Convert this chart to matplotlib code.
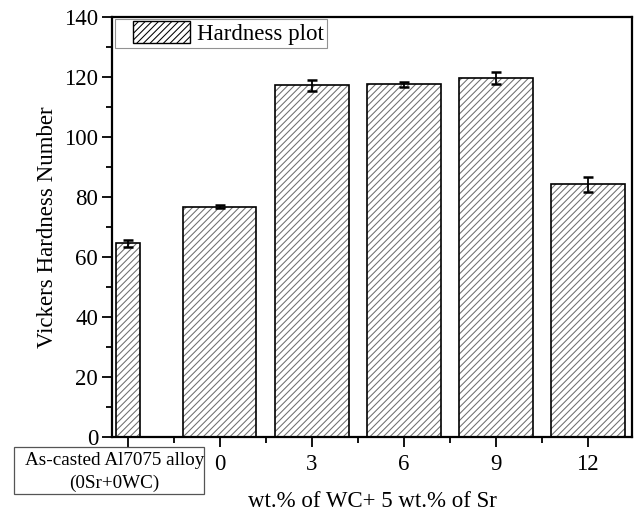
import matplotlib
matplotlib.use("Agg")
import matplotlib.pyplot as plt
from matplotlib.patches import Rectangle
from matplotlib.legend_handler import HandlerPatch
from matplotlib.ticker import MultipleLocator, FixedLocator

plt.rcParams['font.family'] = ['Liberation Serif', 'DejaVu Serif']
plt.rcParams['hatch.linewidth'] = 0.75
plt.rcParams['hatch.color'] = '#6e6e6e'

# Sample groups and measured Vickers hardness
sample_labels = ["", "0", "3", "6", "9", "12"]
base_label = "As-casted Al7075 alloy\n(0Sr+0WC)"
hardness = [64.6, 76.8, 117.2, 117.6, 119.6, 84.2]
hardness_err = [1.2, 0.4, 1.7, 0.8, 2.0, 2.4]
positions = [-1, 0, 1, 2, 3, 4]
bar_widths = [0.26, 0.8, 0.8, 0.8, 0.8, 0.8]

fig = plt.figure(figsize=(6.36, 5.13), dpi=100)
ax = fig.add_axes([112 / 636, 1 - 437 / 513, (632 - 112) / 636, (437 - 17) / 513])

# hatched fill, then black outlines on top
ax.bar(positions, hardness, width=bar_widths, color='white', edgecolor='#6e6e6e',
       hatch='/////', linewidth=0, zorder=2)
ax.bar(positions, hardness, width=bar_widths, fill=False, edgecolor='black',
       linewidth=1.2, zorder=3)
ax.errorbar(positions, hardness, yerr=hardness_err, fmt='none', ecolor='black',
            elinewidth=1.3, capsize=3.8, capthick=1.8, zorder=4)


def inset_swatch(legend, orig_handle, xdescent, ydescent, width, height, fontsize):
    # leave a little blank space to the left of the legend swatch
    offset = 11
    return Rectangle((-xdescent + offset, -ydescent), width - offset, height)


legend_patch = Rectangle((0, 0), 1, 1, facecolor='white', edgecolor='black',
                         hatch='/////', linewidth=1.0)
leg = ax.legend([legend_patch], ["Hardness plot"], loc='upper left',
                bbox_to_anchor=(0.006, 0.996), fontsize=16.5, frameon=True,
                fancybox=False, edgecolor='#777777', handlelength=3.15,
                handleheight=1.05, borderaxespad=0.0, borderpad=0.12,
                handletextpad=0.3,
                handler_map={Rectangle: HandlerPatch(patch_func=inset_swatch)})
leg.get_frame().set_linewidth(0.8)

ax.set_xlim(-1.17, 4.48)
ax.set_ylim(0, 140)
ax.set_xticks(positions)
ax.set_xticklabels(sample_labels)
ax.xaxis.set_minor_locator(FixedLocator([-0.5, 0.5, 1.5, 2.5, 3.5]))
ax.yaxis.set_major_locator(MultipleLocator(20))
ax.yaxis.set_minor_locator(MultipleLocator(10))

ax.tick_params(axis='both', which='major', direction='out', length=7, width=1.3,
               labelsize=16.5)
ax.tick_params(axis='x', which='major', pad=5)
ax.tick_params(axis='y', which='major', pad=3)
ax.tick_params(axis='both', which='minor', direction='out', length=4, width=1.3)
for sp in ax.spines.values():
    sp.set_linewidth(1.6)

ax.set_ylabel("Vickers Hardness Number", fontsize=16.5, labelpad=4)
ax.set_xlabel("wt.% of WC+ 5 wt.% of Sr", fontsize=16.5, labelpad=12)

# boxed label for the as-cast reference sample
fig.patches.append(Rectangle((14 / 636, 1 - 494 / 513), 190 / 636, 47 / 513,
                             transform=fig.transFigure, fill=False,
                             edgecolor='#555555', linewidth=0.9))
fig.text(114.5 / 636, 1 - 472 / 513, base_label, ha='center', va='center',
         fontsize=13.8, linespacing=1.5)

fig.savefig("out.png", dpi=100)
